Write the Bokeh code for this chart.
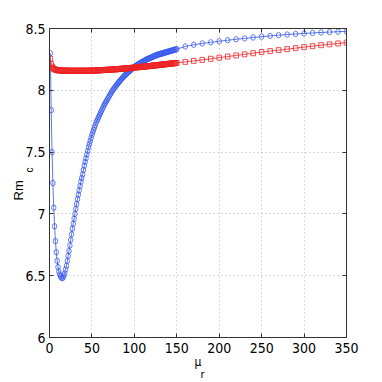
from bokeh.plotting import figure
from bokeh.models import Range1d, LinearAxis, FixedTicker, CustomJSTickFormatter, Title
from bokeh.embed import file_html
from bokeh.resources import INLINE

# ---- data ----
mu_dense = list(range(1, 151))
mu_sparse = list(range(160, 351, 10))

rm_blue_dense = [
    8.30, 7.84, 7.50, 7.25, 7.05, 6.90, 6.78, 6.69, 6.62, 6.57,
    6.535, 6.51, 6.495, 6.485, 6.48, 6.485, 6.50, 6.52, 6.55, 6.58,
    6.62, 6.66, 6.70, 6.745, 6.79, 6.835, 6.88, 6.92, 6.96, 7.00,
    7.04, 7.08, 7.12, 7.155, 7.19, 7.225, 7.26, 7.29, 7.32, 7.355,
    7.39, 7.42, 7.45, 7.48, 7.51, 7.54, 7.565, 7.59, 7.615, 7.64,
    7.66, 7.68, 7.70, 7.72, 7.74, 7.755, 7.77, 7.785, 7.80, 7.815,
    7.83, 7.845, 7.86, 7.875, 7.888, 7.90, 7.912, 7.924, 7.936, 7.948,
    7.96, 7.972, 7.984, 7.995, 8.005, 8.015, 8.024, 8.033, 8.042, 8.051,
    8.06, 8.068, 8.076, 8.084, 8.092, 8.10, 8.108, 8.115, 8.122, 8.129,
    8.136, 8.142, 8.148, 8.154, 8.16, 8.166, 8.172, 8.178, 8.184, 8.189,
    8.194, 8.199, 8.204, 8.208, 8.212, 8.216, 8.22, 8.224, 8.228, 8.232,
    8.236, 8.24, 8.244, 8.248, 8.251, 8.254, 8.257, 8.26, 8.263, 8.266,
    8.269, 8.272, 8.275, 8.278, 8.281, 8.284, 8.287, 8.289, 8.291, 8.293,
    8.295, 8.297, 8.299, 8.301, 8.303, 8.305, 8.307, 8.309, 8.311, 8.313,
    8.315, 8.317, 8.319, 8.321, 8.323, 8.325, 8.327, 8.329, 8.331, 8.333,
]
rm_blue_sparse = [
    8.355, 8.368, 8.379, 8.388, 8.397, 8.405, 8.413, 8.42, 8.427, 8.434,
    8.44, 8.446, 8.451, 8.456, 8.46, 8.464, 8.468, 8.471, 8.474, 8.477,
]
rm_red_dense = [
    8.255, 8.212, 8.192, 8.181, 8.174, 8.17, 8.167, 8.165, 8.163, 8.162,
    8.161, 8.161, 8.16, 8.16, 8.16, 8.159, 8.159, 8.159, 8.159, 8.159,
    8.158, 8.158, 8.158, 8.158, 8.158, 8.158, 8.158, 8.158, 8.158, 8.158,
    8.158, 8.158, 8.158, 8.158, 8.158, 8.158, 8.158, 8.158, 8.158, 8.158,
    8.158, 8.158, 8.158, 8.158, 8.158, 8.159, 8.159, 8.159, 8.159, 8.159,
    8.16, 8.16, 8.16, 8.16, 8.161, 8.161, 8.161, 8.162, 8.162, 8.162,
    8.163, 8.163, 8.164, 8.164, 8.164, 8.165, 8.165, 8.166, 8.166, 8.166,
    8.167, 8.167, 8.168, 8.168, 8.169, 8.169, 8.17, 8.17, 8.171, 8.171,
    8.172, 8.172, 8.173, 8.174, 8.174, 8.175, 8.175, 8.176, 8.176, 8.177,
    8.178, 8.178, 8.179, 8.18, 8.18, 8.181, 8.182, 8.182, 8.183, 8.184,
    8.185, 8.185, 8.186, 8.187, 8.187, 8.188, 8.189, 8.189, 8.19, 8.191,
    8.192, 8.192, 8.193, 8.194, 8.194, 8.195, 8.196, 8.196, 8.197, 8.198,
    8.199, 8.2, 8.2, 8.201, 8.202, 8.203, 8.203, 8.204, 8.205, 8.206,
    8.207, 8.207, 8.208, 8.209, 8.21, 8.21, 8.211, 8.212, 8.213, 8.214,
    8.215, 8.215, 8.216, 8.217, 8.218, 8.218, 8.219, 8.22, 8.221, 8.222,
]
rm_red_sparse = [
    8.23, 8.238, 8.246, 8.255, 8.264, 8.273, 8.282, 8.291, 8.30, 8.309,
    8.317, 8.325, 8.333, 8.341, 8.349, 8.357, 8.365, 8.372, 8.379, 8.386,
]

x_ticks = [0, 50, 100, 150, 200, 250, 300, 350]
y_ticks = [6, 6.5, 7, 7.5, 8, 8.5]

BLUE = "#3355ee"
RED = "#ee2222"
TICK_FONT = "Liberation Sans Narrow, DejaVu Sans Condensed, Liberation Sans"
LABEL_FONT = "Liberation Sans"

p = figure(width=382, height=382, output_backend="svg", toolbar_location=None,
           x_range=Range1d(0, 350), y_range=Range1d(6, 8.5),
           min_border_left=49, min_border_right=36, min_border_top=28,
           min_border_bottom=45)
p.background_fill_color = "white"
p.border_fill_color = "white"
p.outline_line_color = "#333333"
p.outline_line_width = 1

fmt = CustomJSTickFormatter(code="return tick.toString();")
blank = CustomJSTickFormatter(code="return '';")

p.xaxis[0].ticker = FixedTicker(ticks=x_ticks)
p.yaxis[0].ticker = FixedTicker(ticks=y_ticks)
p.xaxis[0].formatter = fmt
p.yaxis[0].formatter = fmt

top_axis = LinearAxis(ticker=FixedTicker(ticks=x_ticks), formatter=blank,
                      major_label_standoff=0)
right_axis = LinearAxis(ticker=FixedTicker(ticks=y_ticks), formatter=blank,
                        major_label_standoff=0)
p.add_layout(top_axis, "above")
p.add_layout(right_axis, "right")

for ax in p.axis:
    ax.major_tick_in = 4
    ax.major_tick_out = 0
    ax.minor_tick_line_color = None
    ax.axis_line_color = "#333333"
    ax.major_tick_line_color = "#333333"
    ax.major_label_text_font = TICK_FONT
    ax.major_label_text_font_size = "14px"
    ax.major_label_text_color = "black"

p.xaxis[0].major_label_standoff = 9
p.yaxis[0].major_label_standoff = 4

p.grid.grid_line_color = "#b8b8b8"
p.grid.grid_line_dash = "1 3"
p.grid.grid_line_width = 1
p.xgrid.ticker = FixedTicker(ticks=x_ticks)
p.ygrid.ticker = FixedTicker(ticks=y_ticks)

mu_all = mu_dense + mu_sparse
blue_all = rm_blue_dense + rm_blue_sparse
red_all = rm_red_dense + rm_red_sparse

# blue series (open, slightly tall circles)
p.line(mu_all, blue_all, line_color=BLUE, line_width=1, line_alpha=0.8)
p.ellipse(mu_all, blue_all, width=4.5, height=5.5, width_units="screen",
          height_units="screen", line_color=BLUE, fill_color=None,
          line_width=1, line_alpha=0.75)

# red series (open squares)
p.line(mu_all, red_all, line_color=RED, line_width=1, line_alpha=0.8)
p.rect(mu_all, red_all, width=4.5, height=5, width_units="screen",
       height_units="screen", line_color=RED, fill_color=None,
       line_width=1, line_alpha=0.8)

# axis labels (y: Rm with subscript c ; x: mu with subscript r)
p.add_layout(Title(text="c", align="left", offset=165, standoff=-24,
                   vertical_align="bottom", text_font=LABEL_FONT,
                   text_font_size="10px", text_font_style="normal",
                   text_color="#000000"), "left")
p.add_layout(Title(text="Rm", align="left", offset=137, standoff=-7,
                   vertical_align="bottom", text_font=LABEL_FONT,
                   text_font_size="13px", text_font_style="normal",
                   text_color="#000000"), "left")
p.add_layout(Title(text="μ", align="left", offset=145, standoff=-2,
                   vertical_align="top", text_font=TICK_FONT,
                   text_font_size="12px", text_font_style="normal",
                   text_color="#000000"), "below")
p.add_layout(Title(text="r", align="left", offset=151, standoff=-8,
                   vertical_align="bottom", text_font=TICK_FONT,
                   text_font_size="11px", text_font_style="normal",
                   text_color="#000000"), "below")

open("out.html", "w").write(file_html(p, INLINE))
